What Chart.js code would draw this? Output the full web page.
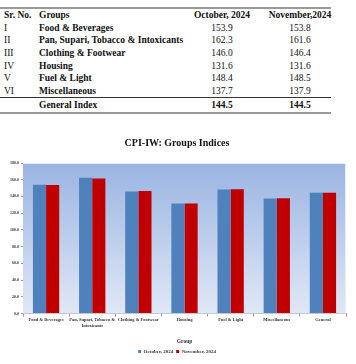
<!DOCTYPE html>
<html><head><meta charset="utf-8">
<script src="https://cdn.jsdelivr.net/npm/chart.js@4"></script>
<style>
html,body{margin:0;padding:0;background:#fff;width:356px;height:364px;overflow:hidden;font-family:"Liberation Serif","Times New Roman",serif;}
.t{position:absolute;font-family:"Liberation Serif",serif;font-size:9.5px;line-height:12px;white-space:nowrap;color:#111;}
.b{font-weight:bold;}
.c{text-align:center;width:70px;}
.ln{position:absolute;left:0;width:331px;}
#wrap{position:absolute;left:0;top:120px;width:356px;height:244px;}
</style></head><body>
<div id="tbl"></div>
<div id="wrap"><canvas id="c" width="356" height="244"></canvas></div>
<script>
const srNos = ["I","II","III","IV","V","VI"];
const groups = ["Food & Beverages","Pan, Supari, Tobacco & Intoxicants","Clothing & Footwear","Housing","Fuel & Light","Miscellaneous"];
const octValues = [153.9,162.3,146.0,131.6,148.4,137.7];
const novValues = [153.8,161.6,146.4,131.6,148.5,137.9];
const generalOct = 144.5;
const generalNov = 144.5;
const chartCategories = ["Food & Beverages",["Pan, Supari, Tobacco &","Intoxicants"],"Clothing & Footwear","Housing","Fuel & Light","Miscellaneous","General"];
const chartOct = [153.9,162.3,146.0,131.6,148.4,137.7,144.5];
const chartNov = [153.8,161.6,146.4,131.6,148.5,137.9,144.5];
const seriesLabels = ["October, 2024","November, 2024"];
const yTicks = [0,20,40,60,80,100,120,140,160,180];

const tbl = document.getElementById('tbl');
function add(txt, x, cy, cls){
  const d=document.createElement('div'); d.className='t '+(cls||''); d.textContent=txt;
  d.style.left=x+'px'; d.style.top=(cy-6)+'px'; tbl.appendChild(d); return d;
}
function line(y,h,col){const d=document.createElement('div');d.className='ln';d.style.top=y+'px';d.style.height=h+'px';d.style.background=col;tbl.appendChild(d);}
line(7,2,'#9a9a9a');
add('Sr. No.',4,15,'b'); add('Groups',39,15,'b');
add('October, 2024',187,15,'b c'); add('November,2024',265,15,'b c');
srNos.forEach((s,i)=>{
  const cy=27.5+12.7*i;
  add(s,4,cy,''); add(groups[i],39,cy,'b');
  add(octValues[i].toFixed(1),187,cy,'c'); add(novValues[i].toFixed(1),265,cy,'c');
});
line(97,1,'#333');
add('General Index',39,105,'b'); add(generalOct.toFixed(1),187,105,'b c'); add(generalNov.toFixed(1),265,105,'b c');
line(112,2,'#9a9a9a');

const bgPlugin={id:'bg',beforeDatasetsDraw(ch){
  const a=ch.chartArea,ctx=ch.ctx;
  const g=ctx.createLinearGradient(0,a.top,0,a.bottom);
  g.addColorStop(0,'#9ab4e2');g.addColorStop(1,'#e0e8f6');
  ctx.save();ctx.fillStyle=g;ctx.fillRect(a.left,a.top,a.right-a.left,a.bottom-a.top);
  ctx.strokeStyle='#e8eef8';ctx.lineWidth=1;ctx.beginPath();ctx.moveTo(a.left,a.top+0.5);ctx.lineTo(a.right,a.top+0.5);ctx.moveTo(a.right-0.5,a.top);ctx.lineTo(a.right-0.5,a.bottom);ctx.stroke();
  ctx.restore();
}};

new Chart(document.getElementById('c'),{
  type:'bar',
  data:{labels:chartCategories,datasets:[
    {label:seriesLabels[0],data:chartOct,backgroundColor:'#4f81bd',borderWidth:0},
    {label:seriesLabels[1],data:chartNov,backgroundColor:'#c00000',borderWidth:0}
  ]},
  options:{
    responsive:false,animation:false,devicePixelRatio:1,
    layout:{padding:{left:8,right:10,top:0,bottom:0}},
    datasets:{bar:{categoryPercentage:0.57,barPercentage:1}},
    plugins:{
      title:{display:true,text:'CPI-IW: Groups Indices',color:'#111',font:{family:'Liberation Serif',size:10,weight:'bold'},padding:{top:17,bottom:14}},
      legend:{position:'bottom',labels:{boxWidth:3,boxHeight:3,padding:3,color:'#333',font:{family:'Liberation Serif',size:5,weight:'bold'}}},
      tooltip:{enabled:false}
    },
    scales:{
      x:{grid:{display:true,drawOnChartArea:false,drawTicks:true,tickLength:3,color:'#999',offset:true},
         border:{color:'#999'},
         ticks:{color:'#333',font:{family:'Liberation Serif',size:4.5,weight:'bold'},maxRotation:0,autoSkip:false,padding:1},
         title:{display:true,text:'Group',color:'#333',font:{family:'Liberation Serif',size:5.5,weight:'bold'},padding:{top:9,bottom:1}}},
      y:{min:0,max:180,afterBuildTicks(s){s.ticks=yTicks.map(v=>({value:v}));},
         grid:{display:true,drawOnChartArea:false,drawTicks:true,tickLength:2,color:'#999'},
         border:{color:'#999'},
         ticks:{color:'#333',font:{family:'Liberation Serif',size:4,weight:'bold'},padding:2,callback:v=>Number(v).toFixed(1)}}
    }
  },
  plugins:[bgPlugin]
});
</script></body></html>
